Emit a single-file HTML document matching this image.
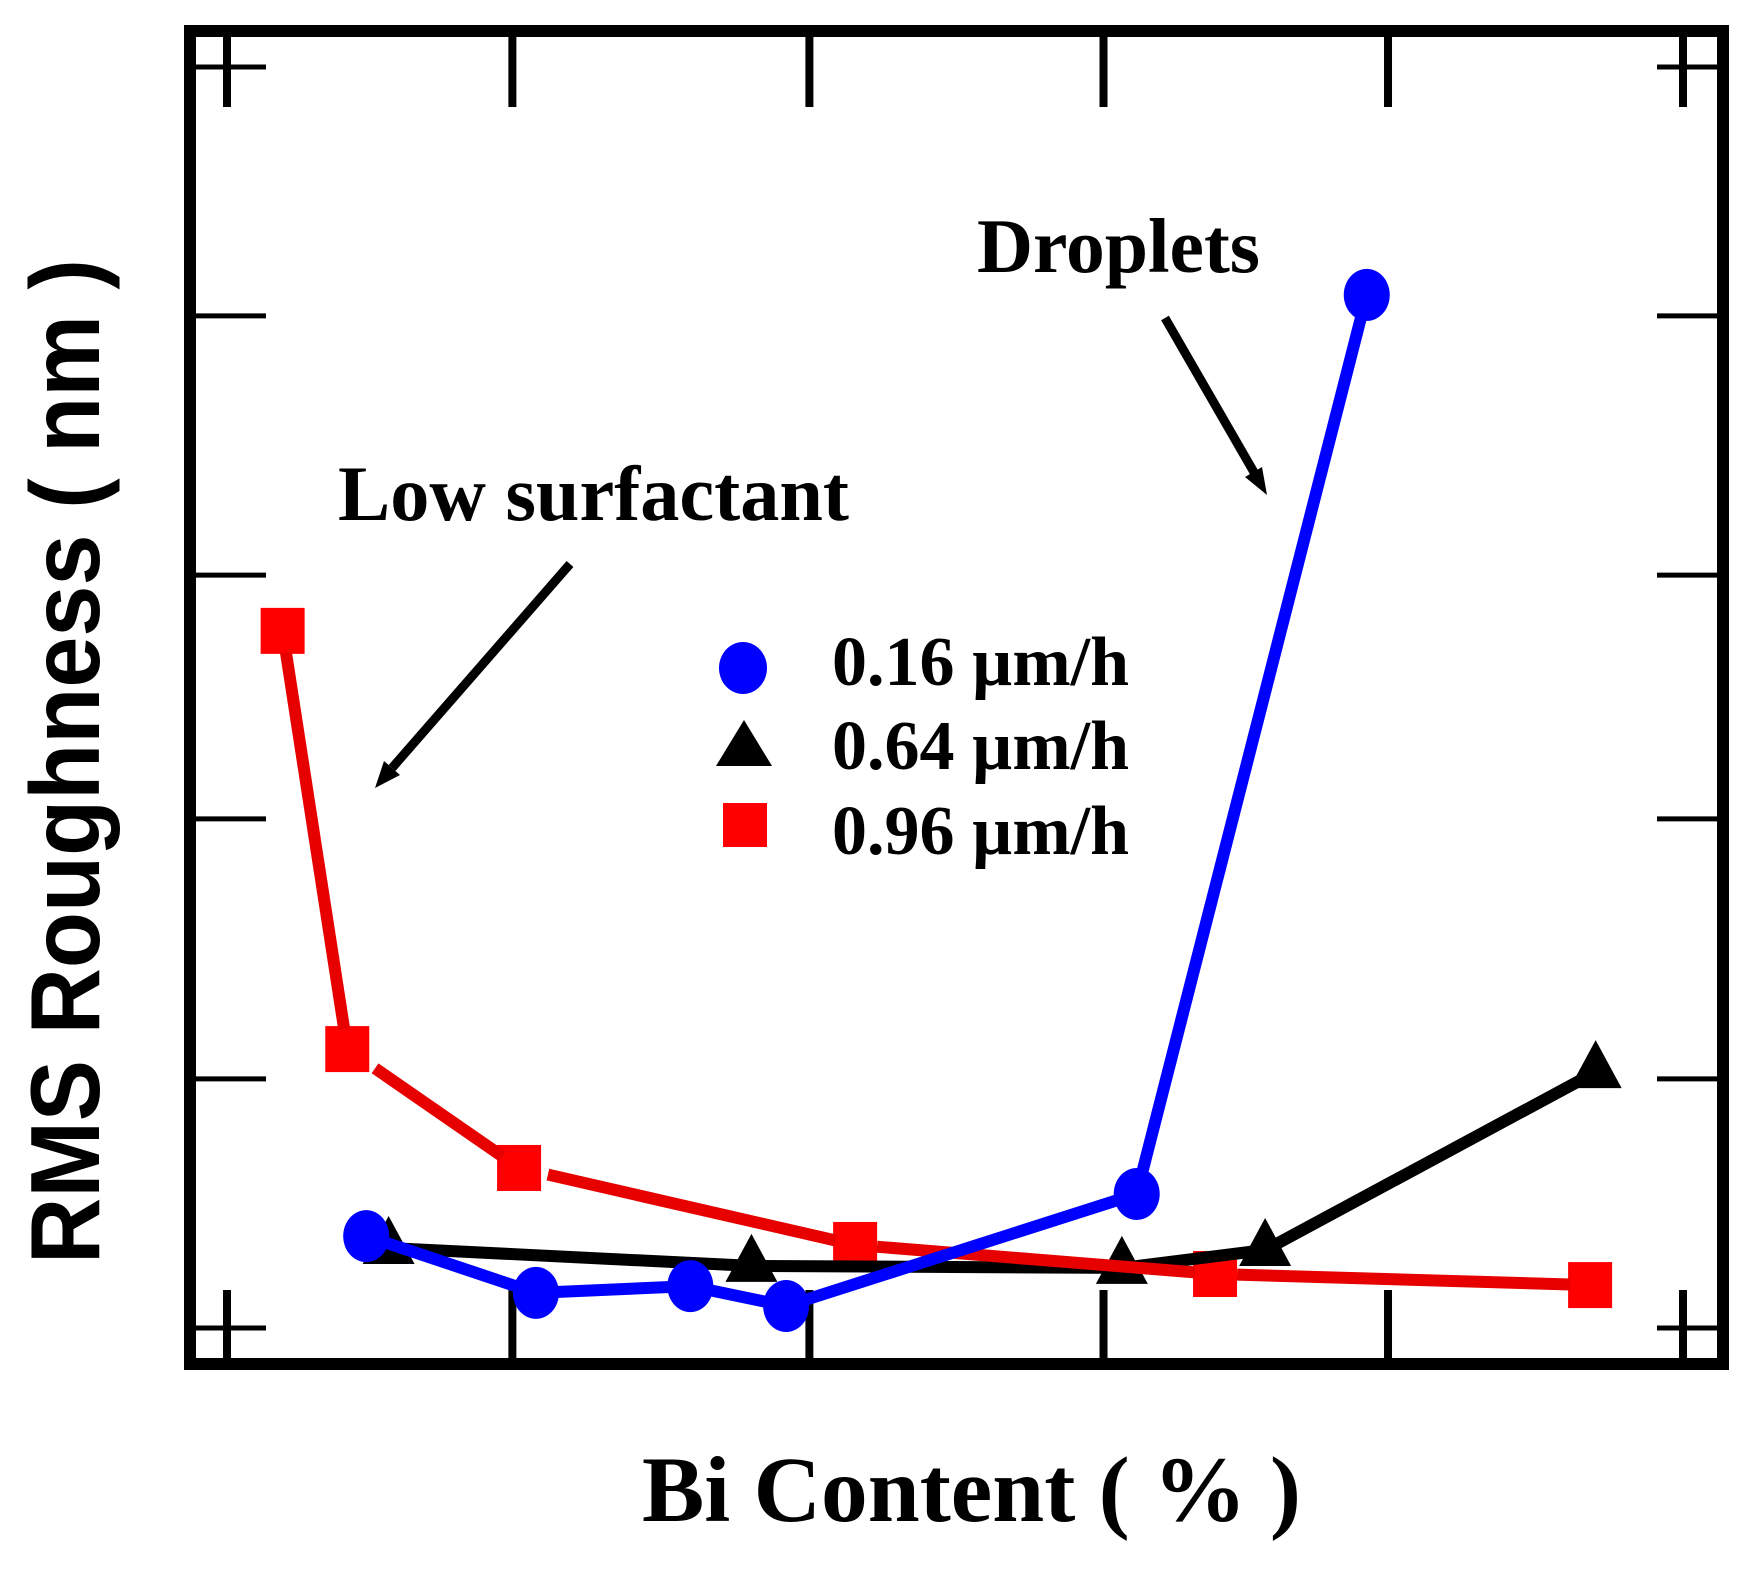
<!DOCTYPE html>
<html><head><meta charset="utf-8"><title>RMS Roughness vs Bi Content</title>
<style>
html,body{margin:0;padding:0;background:#fff}
svg{display:block}
.serif{font-family:"Liberation Serif",serif;font-weight:bold;fill:#000}
.sans{font-family:"Liberation Sans",sans-serif;font-weight:bold;fill:#000}
</style></head>
<body>
<svg id="chart" xmlns="http://www.w3.org/2000/svg" width="1751" height="1569" viewBox="0 0 1751 1569">
  <rect x="0" y="0" width="1751" height="1569" fill="#fff"/>
  <g id="ticks"></g>
  <rect x="190" y="31" width="1533" height="1333" fill="none" stroke="#000" stroke-width="12"/>
  <g id="marks"></g>
  <text class="sans" transform="translate(99,1264) rotate(-90)" font-size="98" textLength="1005" lengthAdjust="spacingAndGlyphs">RMS Roughness ( nm )</text>
  <text class="serif" x="642" y="1521" font-size="93" textLength="659" lengthAdjust="spacingAndGlyphs">Bi Content ( % )</text>
  <text class="serif" x="977" y="272" font-size="77" textLength="283" lengthAdjust="spacingAndGlyphs">Droplets</text>
  <text class="serif" x="338" y="520" font-size="78" textLength="511" lengthAdjust="spacingAndGlyphs">Low surfactant</text>
  <g>
    <line x1="1165" y1="318" x2="1255" y2="474" stroke="#000" stroke-width="9"/>
    <polygon points="1267,495 1245,477 1262,467" fill="#000"/>
  </g>
  <g>
    <line x1="570" y1="564" x2="392" y2="768" stroke="#000" stroke-width="9"/>
    <polygon points="375,788 384,761 400,775" fill="#000"/>
  </g>
  <g>
    <g>
      <ellipse cx="743" cy="668" rx="24" ry="26" fill="#0000ff"/>
      <text class="serif" x="832" y="685" font-size="70" textLength="297" lengthAdjust="spacingAndGlyphs">0.16 µm/h</text>
    </g>
    <g>
      <polygon points="744,720 772,766 716,766" fill="#000"/>
      <text class="serif" x="832" y="769" font-size="70" textLength="297" lengthAdjust="spacingAndGlyphs">0.64 µm/h</text>
    </g>
    <g>
      <rect x="723" y="803" width="44" height="44" fill="#ff0000"/>
      <text class="serif" x="832" y="854" font-size="70" textLength="297" lengthAdjust="spacingAndGlyphs">0.96 µm/h</text>
    </g>
  </g>
</svg>
<script>
// Chart values (axes carry no printed labels; units are tick intervals)
const xTickValues = [0, 0.98, 2, 3.01, 3.987, 5];
const yTickValues = [0, 0.987, 2.017, 2.983, 4.01, 4.996];

const blueX = [0.478, 1.061, 1.591, 1.92, 3.124, 3.914];
const blueY = [0.364, 0.139, 0.166, 0.087, 0.531, 4.093];

const blackX = [0.555, 1.801, 3.073, 3.565, 4.70];
const blackY = [0.317, 0.246, 0.238, 0.309, 1.014];

const redX = [0.191, 0.413, 1.003, 2.157, 3.393, 4.681];
const redY = [2.762, 1.105, 0.634, 0.329, 0.214, 0.17];

function xScale(v) { return 227 + v * 291.2; }
function yScale(v) { return 1328 - v * 252.4; }

const NS = 'http://www.w3.org/2000/svg';
const ticksG = document.getElementById('ticks');
const marksG = document.getElementById('marks');

function line(parent, x1, y1, x2, y2, color, w) {
  const el = document.createElementNS(NS, 'line');
  el.setAttribute('x1', x1);
  el.setAttribute('y1', y1);
  el.setAttribute('x2', x2);
  el.setAttribute('y2', y2);
  el.setAttribute('stroke', color);
  el.setAttribute('stroke-width', w);
  parent.appendChild(el);
  return el;
}

xTickValues.forEach(function (v) {
  const bottom = line(ticksG, xScale(v), 1363, xScale(v), 1290, '#000', 8);
  
  
  const top = line(ticksG, xScale(v), 33, xScale(v), 107, '#000', 8);
  
  
});
yTickValues.forEach(function (v) {
  const left = line(ticksG, 190, yScale(v), 266, yScale(v), '#000', 5);
  
  
  const right = line(ticksG, 1657, yScale(v), 1723, yScale(v), '#000', 5);
  
  
});

function polyline(xs, ys, color, w) {
  const el = document.createElementNS(NS, 'polyline');
  el.setAttribute('points', xs.map(function (x, i) { return xScale(x) + ',' + yScale(ys[i]); }).join(' '));
  el.setAttribute('fill', 'none');
  el.setAttribute('stroke', color);
  el.setAttribute('stroke-width', w);
  el.setAttribute('stroke-linejoin', 'round');
  marksG.appendChild(el);
  return el;
}

// red squares (beneath the black series)
redX.forEach(function (x, i) {
  const el = document.createElementNS(NS, 'rect');
  el.setAttribute('x', xScale(x) - 22);
  el.setAttribute('y', yScale(redY[i]) - 23);
  el.setAttribute('width', 44);
  el.setAttribute('height', 46);
  el.setAttribute('fill', '#ff0000');
  
  
  marksG.appendChild(el);
});

// black line and triangles
const blackLine = polyline(blackX, blackY, '#000', 12);


blackX.forEach(function (x, i) {
  const px = xScale(x), py = yScale(blackY[i]);
  const el = document.createElementNS(NS, 'polygon');
  el.setAttribute('points', px + ',' + (py - 32) + ' ' + (px + 26) + ',' + (py + 16) + ' ' + (px - 26) + ',' + (py + 16));
  el.setAttribute('fill', '#000');
  
  
  marksG.appendChild(el);
});

// red line segments; the second and third start with a small white gap after the square
for (let i = 0; i < redX.length - 1; i++) {
  const ax = xScale(redX[i]), ay = yScale(redY[i]);
  const bx = xScale(redX[i + 1]), by = yScale(redY[i + 1]);
  const len = Math.hypot(bx - ax, by - ay);
  const ux = (bx - ax) / len, uy = (by - ay) / len;
  const startOffset = (i === 1 || i === 2) ? 22 / Math.abs(ux) + 7 : 22;
  const seg = line(marksG, ax + ux * startOffset, ay + uy * startOffset, bx - ux * 20, by - uy * 20, '#e60000', 12);
  
  
}

// blue line and circles
const blueLine = polyline(blueX, blueY, '#0000ff', 12);


blueX.forEach(function (x, i) {
  const el = document.createElementNS(NS, 'ellipse');
  el.setAttribute('cx', xScale(x));
  el.setAttribute('cy', yScale(blueY[i]));
  el.setAttribute('rx', 23);
  el.setAttribute('ry', 26);
  el.setAttribute('fill', '#0000ff');
  
  
  marksG.appendChild(el);
});
</script>
</body></html>
